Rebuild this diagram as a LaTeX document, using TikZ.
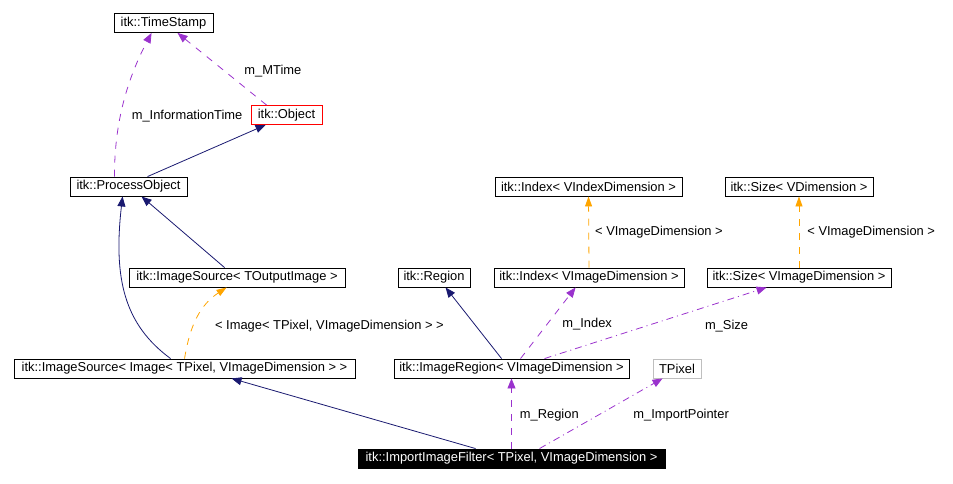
\documentclass[tikz,border=0pt]{standalone}
\usepackage{fontspec}
\setmainfont{Liberation Sans}
\usetikzlibrary{positioning, arrows.meta, calc}
\definecolor{inhcol}{RGB}{25,25,112}
\definecolor{usecol}{RGB}{154,50,205}
\definecolor{tplcol}{RGB}{255,165,0}

\begin{document}
\begin{tikzpicture}[x=1pt, y=-1pt,
    cls/.style={draw, line width=0.9pt, inner sep=0pt, minimum height=19pt,
      font=\fontsize{12.9}{14}\selectfont},
    inh/.style={inhcol, line width=0.8pt, -{Triangle[length=10pt, width=8pt]}},
    usedash/.style={usecol, line width=0.8pt, dash pattern=on 7pt off 7pt,
      -{Triangle[length=10pt, width=8pt]}},
    usedot/.style={usecol, line width=0.8pt, dash pattern=on 7pt off 4pt on 1pt off 4pt,
      -{Triangle[length=10pt, width=8pt]}},
    tpl/.style={tplcol, line width=0.8pt, dash pattern=on 7pt off 7pt,
      -{Triangle[length=10pt, width=7pt]}},
    lbl/.style={text=black, font=\fontsize{12.9}{14}\selectfont, inner sep=0pt, anchor=west}]
    \useasboundingbox (0,0) rectangle (953,483);
    % classes
    \node[cls, minimum width=99pt] (ts) at (163.5,23) {itk::TimeStamp};
    \node[cls, draw=red, minimum width=71pt] (obj) at (286.5,115) {itk::Object};
    \node[cls, minimum width=117pt] (po) at (128.5,186.5) {itk::ProcessObject};
    \node[cls, minimum width=216pt] (isrc) at (237,277.5) {itk::ImageSource< TOutputImage >};
    \node[cls, minimum width=341pt] (iimg) at (184.5,368.5) {itk::ImageSource< Image< TPixel, VImageDimension > >};
    \node[cls, minimum width=72pt] (reg) at (434,277.5) {itk::Region};
    \node[cls, minimum width=187pt] (idxv) at (588.5,186.5) {itk::Index< VIndexDimension >};
    \node[cls, minimum width=190pt] (idx) at (589,277.5) {itk::Index< VImageDimension >};
    \node[cls, minimum width=148pt] (szv) at (799,186.5) {itk::Size< VDimension >};
    \node[cls, minimum width=184pt] (sz) at (799,277.5) {itk::Size< VImageDimension >};
    \node[cls, minimum width=235pt] (ireg) at (511.5,368.5) {itk::ImageRegion< VImageDimension >};
    \node[cls, draw=black!25, minimum width=48pt] (pix) at (677,368.5) {TPixel};
    \node[cls, fill=black, text=white, minimum width=307pt] (imf) at (511.5,458.5) {itk::ImportImageFilter< TPixel, VImageDimension >};

    % upper part
    \draw[usedash] ([xshift=16pt]obj.north west) -- ([xshift=64pt]ts.south west)
      node[lbl, pos=0.5, xshift=22pt, yshift=-2pt] {m\_MTime};
    \draw[usedash] ([xshift=45pt]po.north west) .. controls (114,115) and (132,70) .. ([xshift=38pt]ts.south west)
      node[lbl, pos=0.36, xshift=11pt] {m\_InformationTime};
    \draw[inh] ([xshift=78pt]po.north west) -- ([xshift=15pt]obj.south west);
    \draw[inh] ([xshift=96pt]isrc.north west) -- ([xshift=72pt]po.south west);
    \draw[inh] ([xshift=157pt]iimg.north west) .. controls (125,325) and (113,280) .. ([xshift=53pt]po.south west);
    \draw[tpl] ([xshift=171pt]iimg.north west) .. controls (190,325) and (200,305) .. ([xshift=98pt]isrc.south west)
      node[lbl, pos=0.55, xshift=15pt, yshift=-13pt] {< Image< TPixel, VImageDimension > >};

    % right part
    \draw[tpl] (idx.north) -- (idxv.south)
      node[lbl, midway, xshift=6pt] {< VImageDimension >};
    \draw[tpl] (sz.north) -- (szv.south)
      node[lbl, midway, xshift=8pt] {< VImageDimension >};
    \draw[inh] ([xshift=108pt]ireg.north west) -- ([xshift=48pt]reg.south west);
    \draw[usedash] ([xshift=127pt]ireg.north west) -- ([xshift=82pt]idx.south west)
      node[lbl, pos=0.5, xshift=14pt, yshift=-1pt] {m\_Index};
    \draw[usedot] ([xshift=151pt]ireg.north west) -- ([xshift=60pt]sz.south west)
      node[lbl, pos=0.82, xshift=-22pt, yshift=-26pt] {m\_Size};

    % bottom
    \draw[inh] ([xshift=118pt]imf.north west) -- ([xshift=218pt]iimg.south west);
    \draw[usedash] (imf.north) -- (ireg.south)
      node[lbl, midway, xshift=8pt, yshift=-2pt] {m\_Region};
    \draw[usedot] ([xshift=182pt]imf.north west) -- ([xshift=10pt]pix.south west)
      node[lbl, pos=0.5, xshift=32pt, yshift=-2pt] {m\_ImportPointer};
  \end{tikzpicture}
\end{document}
